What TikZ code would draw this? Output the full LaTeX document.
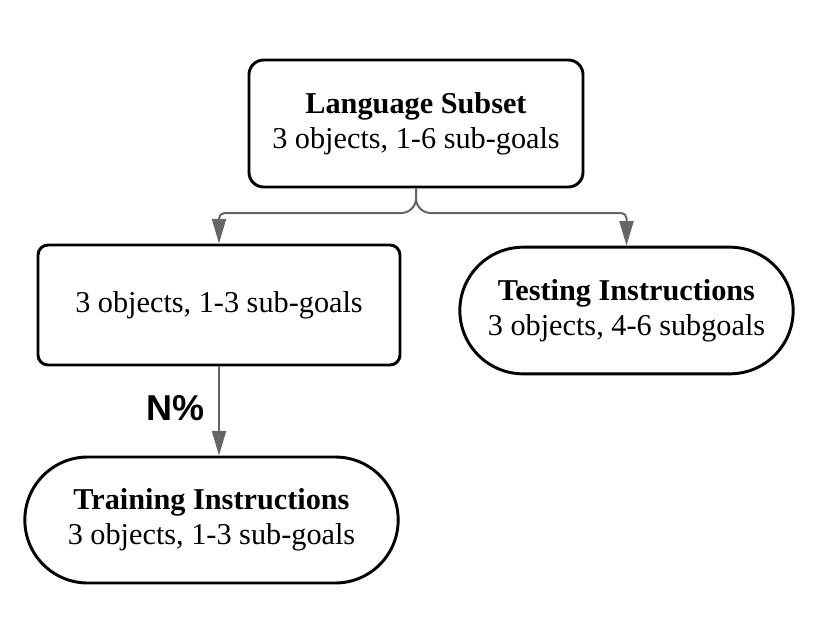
\documentclass[tikz,border=0pt]{standalone}
\usepackage{fontspec}
\setmainfont{Liberation Serif}
\newfontfamily\labelsans{Liberation Sans}
\usetikzlibrary{arrows.meta}
\begin{document}
\begin{tikzpicture}[x=0.75pt,y=-0.75pt,
  box/.style={draw=black, line width=2.2pt, align=center, font=\fontsize{22.7pt}{26.5pt}\selectfont, inner sep=0pt},
  conn/.style={draw=black!60, line width=1.5pt, -{Triangle[length=18.5pt,width=10.5pt]}},
  lbl/.style={font=\labelsans\bfseries\fontsize{27pt}{30pt}\selectfont}]
\useasboundingbox (0,0) rectangle (830,642);
\node[box, rounded corners=11pt, minimum width=250.5pt, minimum height=95.25pt] (top) at (416,123.5)
  {\textbf{Language Subset}\\3 objects, 1-6 sub-goals};
\node[box, rounded corners=7.5pt, minimum width=271.5pt, minimum height=90pt] (left) at (219,305)
  {3 objects, 1-3 sub-goals};
\node[box, rounded corners=47.5pt, minimum width=250pt, minimum height=95pt] (right) at (626.5,310.5)
  {\textbf{Testing Instructions}\\3 objects, 4-6 subgoals};
\node[box, rounded corners=47.2pt, minimum width=280pt, minimum height=94.5pt] (bottom) at (211.5,520)
  {\textbf{Training Instructions}\\3 objects, 1-3 sub-goals};
\coordinate (fork) at (416,213);
\draw[conn] (top.south) [rounded corners=11pt] -- (fork) [rounded corners=4pt] -| (left.north);
\draw[conn] (top.south) [rounded corners=11pt] -- (fork) [rounded corners=4pt] -| (right.north);
\draw[conn] (left.south) -- (left.south |- bottom.north);
\node[lbl] (n) at (176,408) {N\%};
\end{tikzpicture}
\end{document}
